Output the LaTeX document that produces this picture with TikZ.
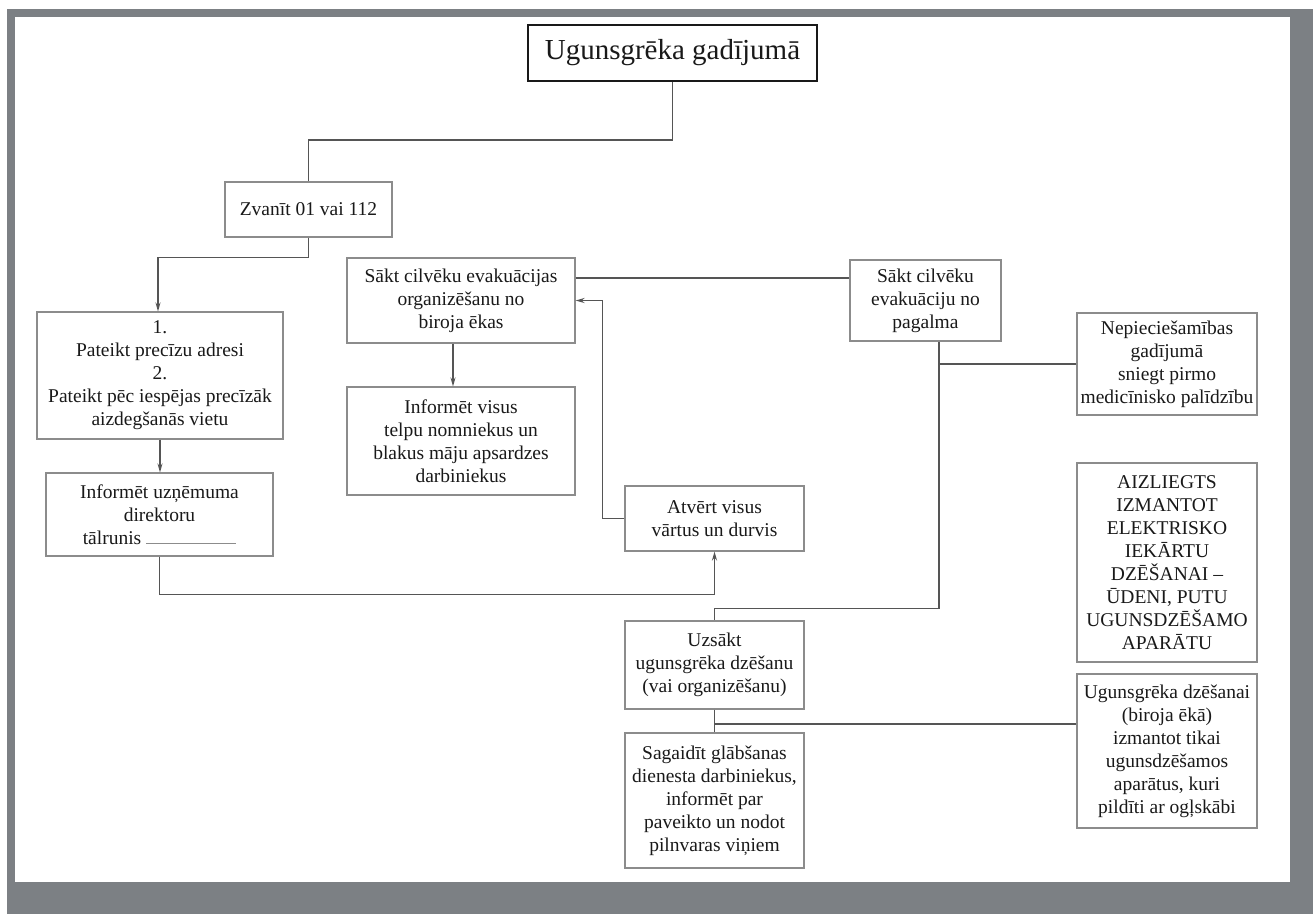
\documentclass[tikz,border=0pt]{standalone}
\usepackage{fontspec}
\setmainfont{Liberation Serif}
\usepackage{xcolor}
\usetikzlibrary{calc,arrows.meta}
\definecolor{framegray}{RGB}{124,128,132}
\definecolor{boxgray}{RGB}{140,140,140}
\definecolor{linegray}{RGB}{85,85,85}
\definecolor{txtgray}{RGB}{25,25,25}

\begin{document}
\begin{tikzpicture}[x=1pt,y=-1pt,%
    box/.style={draw=boxgray,line width=1.1pt,fill=white,align=center,inner sep=0pt,text=txtgray,font=\fontsize{19.5}{23}\selectfont},%
    conn/.style={draw=linegray,line width=1.5pt},%
    arr/.style={conn,-{Stealth[length=9pt,width=5pt]}}]%
    \useasboundingbox (0,0) rectangle (1313,914);%
    \fill[framegray] (7,9) rectangle (1313,914);%
    \fill[white] (15,17) rectangle (1290,882);%
    % boxes
    \node[box,draw=txtgray,line width=2pt,minimum width=289pt,minimum height=56pt,font=\fontsize{29}{33}\selectfont] (title) at (672.5,53) {Ugunsgrēka gadījumā};%
    \node[box,minimum width=167pt,minimum height=55pt] (zvan) at (308.5,209.5) {Zvanīt 01 vai 112};%
    \node[box,minimum width=246pt,minimum height=127pt] (pat) at (160,375.5) {1.\\Pateikt precīzu adresi\\2.\\Pateikt pēc iespējas precīzāk\\aizdegšanās vietu};%
    \node[box,minimum width=227pt,minimum height=83pt] (infd) at (159.5,514.5) {Informēt uzņēmuma\\direktoru\\tālrunis \textcolor{boxgray}{\rule{90pt}{1pt}}};%
    \node[box,minimum width=228pt,minimum height=85pt] (sakt) at (461,300.5) {Sākt cilvēku evakuācijas\\organizēšanu no\\biroja ēkas};%
    \node[box,minimum width=228pt,minimum height=108pt] (infv) at (461,441) {Informēt visus\\telpu nomniekus un\\blakus māju apsardzes\\darbiniekus};%
    \node[box,minimum width=179pt,minimum height=65pt] (atv) at (714.5,518.5) {Atvērt visus\\vārtus un durvis};%
    \node[box,minimum width=151pt,minimum height=81pt] (pag) at (925.5,300.5) {Sākt cilvēku\\evakuāciju no\\pagalma};%
    \node[box,minimum width=180pt,minimum height=102pt] (nep) at (1167,364) {Nepieciešamības\\gadījumā\\sniegt pirmo\\medicīnisko palīdzību};%
    \node[box,minimum width=180pt,minimum height=199pt] (aiz) at (1167,562.5) {AIZLIEGTS\\IZMANTOT\\ELEKTRISKO\\IEKĀRTU\\DZĒŠANAI –\\ŪDENI, PUTU\\UGUNSDZĒŠAMO\\APARĀTU};%
    \node[box,minimum width=180pt,minimum height=154pt] (ugd) at (1167,751) {Ugunsgrēka dzēšanai\\(biroja ēkā)\\izmantot tikai\\ugunsdzēšamos\\aparātus, kuri\\pildīti ar ogļskābi};%
    \node[box,minimum width=179pt,minimum height=88pt] (uzs) at (714.5,665) {Uzsākt\\ugunsgrēka dzēšanu\\(vai organizēšanu)};%
    \node[box,minimum width=179pt,minimum height=135pt] (sag) at (714.5,800.5) {Sagaidīt glābšanas\\dienesta darbiniekus,\\informēt par\\paveikto un nodot\\pilnvaras viņiem};%
    % connectors
    \draw[conn] (title.south) -- ++(0,58) -| (zvan.north);%
    \draw[arr] (zvan.south) -- ++(0,20) -| ([xshift=-2pt]pat.north);%
    \draw[arr] (pat.south) -- (pat.south |- infd.north);%
    \draw[arr] (infd.south) -- ++(0,38) -| (atv.south);%
    \draw[arr] (atv.west) -- ++(-22,0) |- (sakt.east);%
    \draw[arr] ([xshift=-8pt]sakt.south) -- ([xshift=-8pt]infv.north);%
    \coordinate (sk) at ([yshift=22.5pt]sakt.east);%
    \draw[conn] (sk) -- (sk -| pag.west);%
    \coordinate (pagout) at ([xshift=13.5pt]pag.south);%
    \draw[conn] (pagout) -- ++(0,267) -| (uzs.north);%
    \draw[conn] (nep.west) -- (nep.west -| pagout);%
    \draw[conn] (uzs.south) -- (sag.north);%
    \coordinate (ugin) at ([yshift=27pt]ugd.west);%
    \draw[conn] (ugin) -- (ugin -| uzs.south);%
\end{tikzpicture}
\end{document}
